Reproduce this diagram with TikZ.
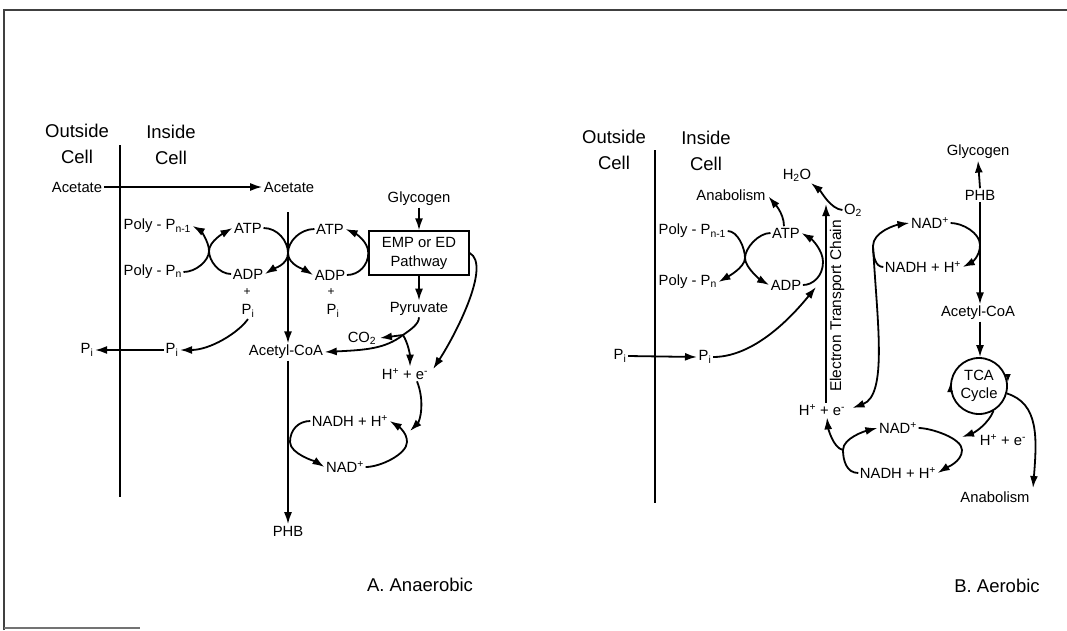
\documentclass[tikz,border=0pt]{standalone}
\usepackage{fontspec}
\setmainfont{Liberation Sans}
\usetikzlibrary{arrows.meta}
\begin{document}
\begin{tikzpicture}[x=1pt,y=-1pt,
  lbl/.style={font=\fontsize{14.8}{16}\selectfont, inner sep=1.5pt},
  sml/.style={font=\fontsize{12}{12}\selectfont, inner sep=1pt},
  hd/.style={font=\fontsize{18.5}{26}\selectfont, align=center, inner sep=0pt},
  ttl/.style={font=\fontsize{18.5}{20}\selectfont},
  ln/.style={line width=1.8pt},
  arr/.style={ln, -{Latex[length=12pt,width=8pt]}},
  tipS/.style={line width=1.4pt, -{Latex[length=8pt,width=6pt]}},
]
\useasboundingbox (0,0) rectangle (1067,630);
% frame
\draw[line width=2.5pt, black!75] (4,630) -- (4,10) -- (1067,10);
\draw[line width=2pt, black!55] (4,628) -- (140,628);

% ================= A. Anaerobic =================
\node[hd] (outA) at (77,144) {Outside\\Cell};
\node[hd] (inA) at (171,145) {Inside\\Cell};
\coordinate (memAt) at (120,145);
\coordinate (memAb) at (120,497);
\draw[ln] (memAt) -- (memAb);
\node[lbl] (acetO) at (77,187) {Acetate};
\node[lbl] (acetI) at (289,187) {Acetate};
\node[lbl, anchor=west] (polyA1) at (122,226) {Poly - P\textsubscript{n-1}};
\node[lbl, anchor=west] (polyA2) at (122,272) {Poly - P\textsubscript{n}};
\node[lbl] (atpA1) at (248,228) {ATP};
\node[lbl] (adpA1) at (248,274) {ADP};
\node[sml] (plA1) at (247,292) {+};
\node[lbl] (piA1) at (248,311) {P\textsubscript{i}};
\node[lbl] (atpA2) at (330,229) {ATP};
\node[lbl] (adpA2) at (330,275) {ADP};
\node[sml] (plA2) at (331,292) {+};
\node[lbl] (piA2) at (333,311) {P\textsubscript{i}};
\node[lbl] (glyA) at (419,199) {Glycogen};
\node[lbl, draw, line width=1.4pt, align=center, minimum width=100pt, minimum height=44pt,
      font=\fontsize{14.8}{19}\selectfont] (box) at (419,253) {EMP or ED\\Pathway};
\node[lbl] (pyr) at (419,309) {Pyruvate};
\node[lbl] (co2) at (362,338) {CO\textsubscript{2}};
\node[lbl] (acoA) at (286,352) {Acetyl-CoA};
\node[lbl] (hA) at (405,374) {H\textsuperscript{+} + e\textsuperscript{-}};
\node[lbl] (nadhA) at (350,421) {NADH + H\textsuperscript{+}};
\node[lbl] (nadA) at (345,467) {NAD\textsuperscript{+}};
\node[lbl] (phbA) at (288,531) {PHB};
\node[lbl] (piOA) at (87,350) {P\textsubscript{i}};
\node[lbl] (piIA) at (172,350) {P\textsubscript{i}};
\node[ttl] (labA) at (420,585) {A.\ Anaerobic};

\draw[arr] (acetO.east) -- (acetI.west);
\coordinate (topA) at (288,212);
\draw[arr] (topA) -- (topA |- acoA.north);
\draw[arr] (acoA.south -| topA) -- (phbA.north);
% polyP crossing
\coordinate (xA1) at (209,251);
\draw[ln] (polyA2.east) .. controls +(12,0) and +(0,10) .. (xA1);
\draw[arr] (xA1) .. controls +(0,-10) and +(7,4) .. (polyA1.east);
\draw[ln] (adpA1.west) .. controls +(-12,0) and +(0,10) .. (xA1);
\draw[arr] (xA1) .. controls +(0,-10) and +(-7,4) .. (atpA1.west);
% acetate activation crossing
\coordinate (xA2) at (288,253);
\draw[ln] (atpA1.east) .. controls +(14,0) and +(0,-12) .. (xA2);
\draw[arr] (xA2) .. controls +(0,12) and +(8,-5) .. (adpA1.east);
\draw[ln] (atpA2.west) .. controls +(-14,0) and +(0,-12) .. (xA2);
\draw[arr] (xA2) .. controls +(0,12) and +(-8,-5) .. (adpA2.west);
% ADP -> ATP at pathway
\draw[ln] (adpA2.east) .. controls +(12,0) and +(0,12) .. (box.west);
\draw[arr] (box.west) .. controls +(0,-12) and +(9,4) .. (atpA2.east);
\draw[arr] (glyA) -- (box);
\draw[arr] (box) -- (pyr);
% pyruvate split
\coordinate (jA) at (403,335);
\draw[ln] (pyr.south) .. controls +(0,7) and +(7,-5) .. (jA);
\draw[arr] (jA) .. controls +(-18,14) and +(40,-2) .. (acoA.east);
\draw[arr] (jA) -- ([xshift=2pt]co2.east);
\draw[arr] (jA) .. controls +(5,8) and +(0,-12) .. ([xshift=5pt]hA.north);
\draw[arr, shorten >=6pt] (box.east) .. controls +(22,12) and +(25,-38) .. (hA.east);
% NADH loop
\coordinate (rA) at (407,442);
\coordinate (lA) at (290,442);
\coordinate (jB) at (410,431);
\draw[arr] ([xshift=12pt]hA.south) .. controls +(8,20) and +(10,-10) .. (jB);
\draw[ln] (nadA.east) .. controls +(15,0) and +(0,12) .. (rA);
\draw[arr] (rA) .. controls +(0,-10) and +(8,5) .. (nadhA.east);
\draw[ln] (nadhA.west) .. controls +(-12,0) and +(0,-12) .. (lA);
\draw[arr] (lA) .. controls +(0,12) and +(-8,-5) .. (nadA.west);
% Pi
\draw[arr] (piA1.south) .. controls +(-10,14) and +(30,0) .. (piIA.east);
\draw[arr] (piIA.west) -- (piOA.east);

% ================= B. Aerobic =================
\node[hd] (outB) at (614,150) {Outside\\Cell};
\node[hd] (inB) at (706,151) {Inside\\Cell};
\coordinate (memBt) at (655,150);
\coordinate (memBb) at (655,503);
\draw[ln] (memBt) -- (memBb);
\node[lbl] (h2o) at (797,175) {H\textsubscript{2}O};
\node[lbl] (anab1) at (731,195) {Anabolism};
\node[lbl, anchor=west] (polyB1) at (657,231) {Poly - P\textsubscript{n-1}};
\node[lbl, anchor=west] (polyB2) at (657,282) {Poly - P\textsubscript{n}};
\node[lbl] (atpB) at (786,233) {ATP};
\node[lbl] (adpB) at (786,285) {ADP};
\node[lbl] (o2) at (853,210) {O\textsubscript{2}};
\node[lbl] (piOB) at (620,356) {P\textsubscript{i}};
\node[lbl] (piIB) at (705,357) {P\textsubscript{i}};
\node[lbl] (hB) at (822,410) {H\textsuperscript{+} + e\textsuperscript{-}};
\node[font=\fontsize{15.5}{17}\selectfont, rotate=90, inner sep=0pt] (etcL) at (837,306) {Electron Transport Chain};
\node[lbl] (nadB1) at (930,223) {NAD\textsuperscript{+}};
\node[lbl] (nadhB1) at (923,267) {NADH + H\textsuperscript{+}};
\node[lbl] (glyB) at (978,152) {Glycogen};
\node[lbl] (phbB) at (980,195) {PHB};
\node[lbl] (acoB) at (978,313) {Acetyl-CoA};
\node[draw, circle, line width=1.8pt, minimum size=56pt, inner sep=0pt, align=center,
      font=\fontsize{14.8}{18}\selectfont] (tca) at (979,386) {TCA\\Cycle};
\node[lbl] (hB2) at (1003,440) {H\textsuperscript{+} + e\textsuperscript{-}};
\node[lbl] (anab2) at (995,497) {Anabolism};
\node[lbl] (nadB2) at (898,428) {NAD\textsuperscript{+}};
\node[lbl] (nadhB2) at (898,473) {NADH + H\textsuperscript{+}};
\node[ttl] (labB) at (997,586) {B.\ Aerobic};

% polyP crossing (synthesis)
\coordinate (xB1) at (745,258);
\draw[ln] (polyB1.east) .. controls +(10,0) and +(0,-10) .. (xB1);
\draw[arr] (xB1) .. controls +(0,10) and +(7,-4) .. (polyB2.east);
\draw[ln] (atpB.west) .. controls +(-12,0) and +(0,-10) .. (xB1);
\draw[arr] (xB1) .. controls +(0,10) and +(-7,-4) .. (adpB.west);
% ATP -> anabolism
\draw[arr, shorten >=2pt] ([xshift=-2pt]atpB.north) .. controls +(0,-14) and +(5,6) .. (anab1.east);
% ETC
\coordinate (etcT) at (826,204);
\draw[arr] ([xshift=4pt]hB.north) -- (etcT);
\draw[arr] (o2.west) .. controls +(-12,-1) and +(10,8) .. ([xshift=-2pt]h2o.south east);
% ADP -> ATP by ETC
\coordinate (rB) at (823,262);
\coordinate (jB2) at (816,287);
\draw[ln] (adpB.east) .. controls +(10,0) and +(0,14) .. (rB);
\draw[arr] (rB) .. controls +(0,-12) and +(10,6) .. (atpB.east);
\draw[arr] (piIB.east) .. controls +(45,0) and +(-18,22) .. (jB2);
\draw[arr] (piOB.east) -- (piIB.west);
% upper NAD loop
\coordinate (rC) at (980,245);
\coordinate (lC) at (873,246);
\draw[ln] (nadB1.east) .. controls +(12,0) and +(0,-12) .. (rC);
\draw[arr] (rC) .. controls +(0,12) and +(8,-4) .. (nadhB1.east);
\draw[ln] (nadhB1.west) .. controls +(-8,0) and +(0,10) .. (lC);
\draw[arr] (lC) .. controls +(0,-14) and +(-14,2) .. (nadB1.west);
\draw[arr, shorten >=6pt] (lC) .. controls (877,320) and (888,395) .. (hB.east);
% PHB / glycogen / acetyl-CoA / TCA
\draw[arr] (phbB.north) -- (glyB.south);
\draw[arr] (phbB.south) -- (phbB.south |- acoB.north);
\draw[arr] (phbB.south |- acoB.south) -- (phbB.south |- tca.north);
\draw[tipS] ([yshift=10pt]tca.east) -- ([yshift=4pt]tca.east);
\draw[tipS] ([yshift=-4pt]tca.west) -- ([yshift=2pt]tca.west);
% TCA -> H+ + e-
\coordinate (rD) at (962,450);
\coordinate (jD) at (962,437);
\draw[arr] (tca.-60) .. controls +(-5,12) and +(14,-5) .. (jD);
\draw[ln] (nadB2.east) .. controls +(12,0) and +(0,-12) .. (rD);
\draw[arr] (rD) .. controls +(0,12) and +(8,-5) .. (nadhB2.east);
% TCA -> anabolism
\coordinate (anTip) at (1033,488);
\draw[arr] (tca.-15) .. controls +(32,10) and +(4,-50) .. (anTip);
% lower NAD loop
\coordinate (lD) at (843,450);
\draw[ln] (nadhB2.west) .. controls +(-12,0) and +(0,10) .. (lD);
\draw[arr] (lD) .. controls +(0,-12) and +(-12,3) .. (nadB2.west);
\draw[arr] (lD) .. controls +(-10,-2) and +(1,10) .. ([xshift=5pt]hB.south);
\end{tikzpicture}
\end{document}
